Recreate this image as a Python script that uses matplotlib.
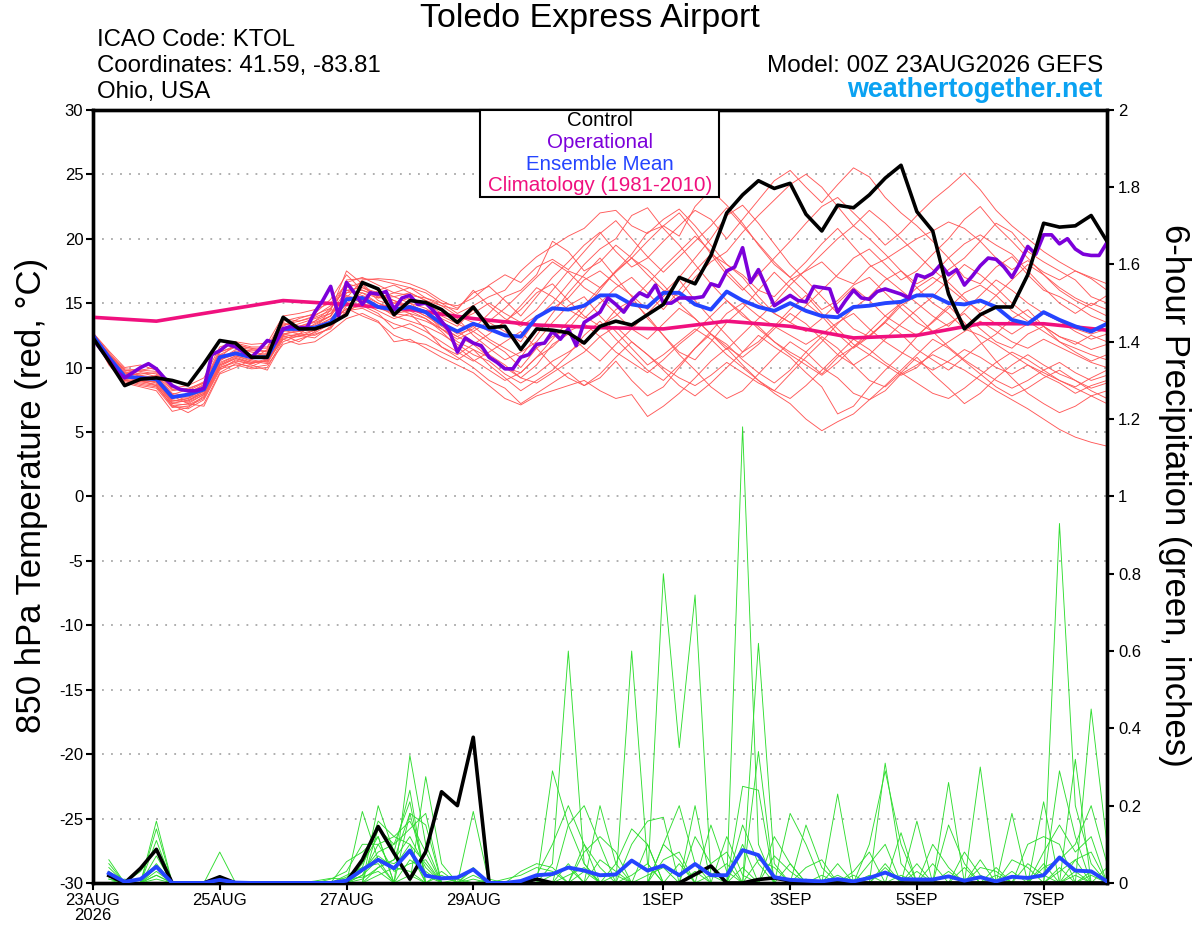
import matplotlib
matplotlib.use("Agg")
import matplotlib.pyplot as plt
import numpy as np
from matplotlib.patches import Rectangle

plt.rcParams["font.family"] = ["Liberation Sans", "DejaVu Sans"]

# ── Data (6-hourly steps from 00Z 23AUG2026, 0..384 h) ────────────────────────
hours_6h = np.arange(0, 385, 6)
hours_3h = np.arange(0, 385, 3)
days_clim = np.arange(0, 17)

tick_days = [0, 2, 4, 6, 9, 11, 13, 15]
tick_labels = ["23AUG\n2026", "25AUG", "27AUG", "29AUG", "1SEP", "3SEP", "5SEP", "7SEP"]
temp_ticks = [-30, -25, -20, -15, -10, -5, 0, 5, 10, 15, 20, 25, 30]
precip_ticks = [0, 0.2, 0.4, 0.6, 0.8, 1.0, 1.2, 1.4, 1.6, 1.8, 2.0]
precip_labels = ["0", "0.2", "0.4", "0.6", "0.8", "1", "1.2", "1.4", "1.6", "1.8", "2"]

control_temp = [
    12.3, 10.5, 8.6, 9.1, 9.2, 9.0, 8.65, 10.3,
    12.1, 11.9, 10.8, 10.8, 13.9, 13.0, 13.0, 13.4,
    14.1, 16.6, 16.1, 14.1, 15.2, 15.05, 14.5, 13.5,
    14.7, 13.1, 13.2, 11.4, 13.0, 12.9, 12.7, 11.9,
    13.2, 13.6, 13.3, 14.1, 14.9, 17.0, 16.5, 18.7,
    22.0, 23.4, 24.5, 23.9, 24.3, 21.9, 20.6, 22.6,
    22.4, 23.4, 24.7, 25.7, 22.1, 20.6, 15.7, 13.0,
    14.1, 14.7, 14.7, 17.2, 21.2, 20.9, 21.0, 21.8,
    19.8,
]

mean_temp = [
    12.5, 10.8, 9.3, 9.2, 9.1, 7.7, 7.9, 8.3,
    10.8, 11.1, 10.8, 10.8, 13.0, 13.0, 13.1, 13.5,
    15.3, 15.4, 14.7, 14.5, 14.7, 14.3, 13.4, 12.8,
    13.4, 13.0, 12.5, 12.4, 13.9, 14.6, 14.5, 14.8,
    15.6, 15.6, 14.9, 14.7, 15.8, 15.8, 14.9, 14.5,
    15.9, 15.2, 14.7, 14.4, 15.0, 14.4, 14.0, 13.9,
    14.7, 14.8, 15.0, 15.1, 15.6, 15.6, 15.0, 14.9,
    15.2, 14.7, 13.7, 13.4, 14.3, 13.7, 13.2, 12.8,
    13.4,
]

# operational run is 3-hourly
oper_temp = [
    12.2, 11.4, 10.6, 9.7, 9.2, 9.6, 10.0, 10.3,
    9.9, 9.2, 8.6, 8.3, 8.2, 8.2, 8.4, 11.0,
    11.3, 11.8, 11.6, 11.2, 10.8, 11.4, 12.1, 11.9,
    13.0, 13.2, 13.1, 13.1, 14.3, 15.2, 16.3, 14.0,
    16.6, 15.8, 14.9, 15.8, 15.7, 15.9, 14.5, 15.4,
    15.6, 14.9, 15.0, 14.4, 13.6, 12.8, 11.2, 12.3,
    11.9, 11.7, 10.8, 10.4, 9.9, 9.9, 10.8, 11.0,
    11.8, 11.9, 12.8, 12.2, 13.0, 11.7, 13.5, 13.9,
    14.3, 15.4, 14.9, 14.3, 15.2, 15.8, 15.5, 16.4,
    15.0, 15.0, 15.4, 15.4, 15.4, 15.5, 16.5, 16.3,
    17.5, 17.8, 19.3, 16.6, 17.6, 16.2, 14.8, 15.2,
    15.6, 15.2, 15.1, 16.3, 16.2, 16.1, 14.3, 15.2,
    16.0, 15.4, 15.3, 15.9, 16.1, 15.9, 15.7, 15.4,
    17.2, 17.0, 17.3, 18.0, 17.2, 17.6, 16.4, 17.1,
    17.9, 18.5, 18.4, 17.8, 17.0, 18.1, 19.4, 18.8,
    20.3, 20.3, 19.6, 20.0, 19.2, 18.8, 18.7, 18.7,
    19.7,
]

# daily climatology (1981-2010)
clim_temp = [13.9, 13.6, 14.4, 15.2, 14.9, 14.5, 13.8, 13.3, 13.1,
             13.0, 13.6, 13.2, 12.3, 12.5, 13.4, 13.4, 12.9]

member_temps = [
    [12.6, 11.0, 9.6, 9.4, 9.0, 7.4, 7.6, 8.1,
     10.5, 11.3, 11.0, 10.6, 12.8, 13.2, 13.5, 14.0,
     16.8, 16.9, 16.8, 16.5, 16.2, 15.8, 15.0, 14.2,
     14.8, 15.5, 16.0, 17.5, 18.6, 19.4, 20.2, 20.8,
     22.0, 22.2, 21.0, 20.4, 21.5, 22.3, 21.0, 19.5,
     18.0, 17.2, 16.0, 15.5, 16.8, 17.5, 18.2, 17.0,
     16.5, 17.8, 18.4, 19.2, 20.0, 20.6, 21.3, 20.8,
     19.8, 18.5, 17.6, 18.3, 17.4, 16.8, 17.5, 16.9,
     16.0],
    [12.4, 10.5, 9.0, 8.8, 8.6, 7.0, 6.8, 7.5,
     9.8, 10.6, 10.2, 9.8, 12.0, 12.5, 12.3, 13.2,
     15.8, 16.4, 15.2, 14.8, 15.0, 14.2, 13.0, 12.2,
     12.8, 12.0, 11.2, 10.0, 11.5, 12.4, 13.0, 14.5,
     16.0, 17.5, 18.8, 20.5, 21.0, 20.2, 22.5, 23.8,
     22.6, 21.2, 19.5, 18.0, 17.0, 15.8, 14.5, 15.2,
     16.4, 17.0, 15.8, 14.6, 13.5, 12.8, 13.4, 14.2,
     13.0, 12.0, 11.5, 12.6, 13.2, 12.4, 11.8, 12.5,
     12.0],
    [12.5, 10.2, 8.8, 8.5, 8.2, 6.6, 6.9, 7.8,
     10.2, 10.8, 10.4, 10.5, 12.5, 12.0, 12.8, 13.6,
     15.5, 15.0, 14.4, 13.8, 14.2, 13.0, 11.6, 10.8,
     10.0, 9.0, 8.4, 7.2, 8.0, 8.8, 9.6, 8.6,
     9.2, 10.5, 9.0, 7.8, 8.5, 10.0, 11.5, 12.8,
     14.2, 15.0, 14.0, 13.2, 12.5, 11.8, 12.6, 13.5,
     14.2, 13.0, 12.0, 11.2, 10.5, 9.8, 10.5, 11.4,
     10.8, 10.0, 9.5, 10.2, 9.4, 8.8, 8.0, 8.6,
     9.0],
    [12.7, 11.2, 9.8, 9.5, 9.6, 8.2, 8.4, 8.8,
     11.2, 11.6, 11.2, 11.0, 13.2, 13.8, 14.2, 15.3,
     17.2, 16.0, 15.6, 15.2, 14.6, 14.0, 13.4, 12.6,
     13.0, 14.2, 15.5, 16.0, 17.2, 19.8, 19.0, 17.5,
     18.2, 19.5, 18.5, 17.2, 16.0, 15.5, 17.0, 18.2,
     19.0, 20.5, 21.8, 23.0, 24.2, 25.0, 24.0, 22.5,
     21.0, 20.0, 18.8, 17.5, 16.5, 17.2, 18.5, 19.6,
     20.3, 19.5, 18.8, 17.5, 16.2, 15.0, 14.2, 15.0,
     14.5],
    [12.3, 10.6, 9.2, 9.0, 9.4, 7.8, 7.2, 7.0,
     9.5, 10.0, 10.6, 11.4, 13.0, 12.8, 13.0, 14.5,
     14.2, 15.2, 16.0, 16.4, 15.8, 15.2, 14.5, 13.8,
     12.5, 11.5, 10.6, 11.2, 12.0, 13.5, 14.8, 15.5,
     14.0, 12.8, 11.5, 10.2, 11.0, 12.0, 13.0, 12.2,
     11.0, 10.0, 9.0, 8.2, 9.5, 10.8, 12.0, 13.4,
     14.6, 15.5, 16.8, 17.5, 16.2, 15.0, 14.2, 13.0,
     12.5, 11.8, 11.0, 10.2, 9.6, 9.0, 8.5, 9.2,
     9.8],
    [12.6, 10.9, 9.5, 9.8, 10.0, 8.6, 8.1, 8.6,
     10.8, 11.8, 11.5, 11.2, 13.5, 13.0, 13.6, 14.6,
     16.2, 16.6, 16.0, 15.5, 15.0, 14.6, 13.8, 13.2,
     14.5, 13.5, 12.8, 12.0, 13.8, 15.0, 16.5, 18.0,
     19.2, 20.0, 21.8, 22.4, 20.8, 19.5, 18.0, 16.5,
     15.2, 14.0, 13.2, 12.0, 11.2, 10.5, 9.5, 10.8,
     11.6, 12.5, 13.5, 14.8, 15.6, 16.5, 17.6, 18.5,
     19.8, 21.2, 20.5, 19.0, 18.2, 17.5, 16.8, 15.5,
     15.0],
    [12.4, 10.8, 9.4, 9.1, 8.8, 7.2, 7.5, 8.0,
     10.0, 10.4, 10.0, 10.2, 11.8, 12.2, 12.6, 13.0,
     14.8, 15.5, 14.8, 14.0, 13.6, 13.2, 12.6, 11.8,
     11.0, 10.5, 9.5, 8.8, 9.5, 10.5, 11.2, 12.0,
     13.0, 14.5, 15.2, 14.0, 12.5, 11.0, 9.8, 8.5,
     7.6, 8.2, 9.5, 10.8, 12.0, 11.2, 10.0, 9.2,
     8.0, 7.5, 8.2, 9.5, 10.2, 11.0, 10.4, 9.8,
     9.0, 8.2, 7.5, 6.8, 6.0, 5.2, 4.6, 4.2,
     3.9],
    [12.5, 11.1, 9.7, 9.3, 9.1, 7.6, 7.9, 8.5,
     11.0, 11.0, 10.9, 11.1, 13.0, 13.4, 13.8, 14.2,
     15.4, 16.8, 16.9, 16.8, 16.5, 16.0, 15.2, 14.6,
     15.8, 16.3, 15.2, 14.0, 15.5, 17.0, 18.2, 19.5,
     20.5, 19.0, 17.8, 18.5, 19.8, 21.0, 22.2, 21.5,
     20.0, 21.5, 23.0, 24.5, 25.3, 24.0, 22.8, 24.2,
     25.5, 24.8, 23.2, 22.0, 21.0, 19.8, 18.5, 17.0,
     16.5, 17.8, 18.6, 17.2, 16.0, 15.5, 14.8, 14.0,
     13.5],
    [12.5, 10.4, 8.9, 8.6, 8.4, 6.9, 7.0, 7.6,
     9.9, 10.2, 9.9, 10.0, 12.2, 11.8, 12.0, 12.8,
     13.8, 14.2, 13.6, 12.0, 12.2, 11.5, 10.8, 10.2,
     9.6, 8.6, 7.6, 7.1, 7.8, 8.2, 8.6, 9.0,
     8.2, 7.6, 7.9, 6.2, 7.0, 8.0, 9.2, 10.5,
     11.5, 10.2, 9.0, 8.0, 7.2, 6.0, 5.1, 5.8,
     6.4, 7.5, 8.6, 9.8, 11.0, 12.2, 11.5, 10.5,
     9.5, 8.5, 7.8, 8.4, 9.2, 9.8, 9.0, 8.2,
     7.6],
    [12.6, 10.7, 9.3, 9.6, 9.3, 7.9, 8.3, 8.9,
     11.4, 11.9, 11.6, 11.6, 13.8, 13.6, 14.0, 14.8,
     16.0, 15.8, 15.4, 15.8, 16.2, 15.4, 14.8, 14.0,
     13.5, 12.8, 13.5, 14.8, 16.2, 15.5, 14.5, 13.8,
     15.0, 16.2, 17.0, 15.8, 14.5, 16.0, 17.5, 18.8,
     18.0, 17.0, 15.5, 14.2, 13.5, 14.8, 16.0, 17.2,
     18.5, 19.2, 18.0, 16.8, 17.5, 18.8, 20.0, 21.5,
     22.5, 21.0, 19.8, 18.5, 17.2, 16.0, 15.2, 14.6,
     14.0],
    [12.4, 10.3, 9.1, 8.9, 8.9, 7.3, 7.4, 8.2,
     10.4, 10.9, 10.5, 10.3, 12.4, 12.6, 12.9, 13.5,
     15.0, 15.8, 15.0, 14.4, 14.8, 14.4, 13.6, 12.8,
     12.0, 11.0, 10.2, 9.2, 10.2, 11.8, 12.6, 11.5,
     10.5, 11.8, 13.0, 14.2, 15.5, 16.8, 15.2, 13.8,
     12.5, 11.2, 12.0, 13.2, 14.5, 15.6, 14.2, 13.0,
     11.8, 11.0, 10.2, 9.4, 10.0, 11.2, 12.0, 12.8,
     13.6, 12.8, 12.0, 11.5, 12.2, 11.6, 11.0, 10.4,
     10.0],
    [12.7, 11.3, 10.0, 10.2, 9.8, 8.4, 8.6, 9.2,
     11.6, 12.0, 11.8, 11.9, 14.0, 14.2, 14.5, 15.0,
     16.5, 16.2, 15.6, 15.0, 15.4, 15.0, 14.2, 13.6,
     14.2, 15.0, 14.2, 13.5, 14.5, 16.0, 17.5, 17.0,
     16.2, 17.5, 18.5, 19.8, 21.0, 22.0, 20.5, 18.8,
     17.2, 16.0, 17.2, 18.5, 19.8, 21.2, 22.5, 23.2,
     22.0, 20.8, 19.5, 20.5, 21.8, 23.0, 24.0, 25.1,
     23.8, 22.2, 21.0, 20.0, 19.0, 18.2, 17.5, 17.0,
     16.5],
    [12.3, 10.9, 9.5, 9.2, 9.0, 7.5, 7.3, 7.9,
     10.2, 10.7, 10.3, 10.7, 12.6, 12.9, 13.2, 13.8,
     14.5, 14.8, 14.2, 13.0, 13.4, 12.8, 12.0, 11.2,
     10.5, 11.2, 12.0, 12.8, 11.5, 10.2, 9.2, 8.6,
     9.5, 10.8, 12.0, 11.0, 9.8, 8.6, 7.8, 8.8,
     10.0, 11.2, 12.5, 11.6, 10.8, 9.6, 8.5, 6.4,
     7.0, 8.5, 9.8, 11.0, 12.4, 13.6, 14.8, 13.5,
     12.0, 10.5, 9.2, 8.0, 7.2, 6.5, 7.0, 7.8,
     8.2],
    [12.5, 11.0, 9.8, 9.7, 9.5, 8.0, 7.8, 8.4,
     10.6, 11.4, 11.3, 11.3, 13.3, 13.6, 13.9, 14.4,
     17.5, 16.5, 15.4, 15.5, 15.8, 15.2, 14.8, 14.5,
     16.0, 14.8, 13.8, 13.2, 14.0, 14.6, 15.4, 16.8,
     17.5, 16.5, 15.6, 14.5, 15.8, 17.0, 18.5, 20.0,
     21.8, 22.6, 21.2, 19.6, 18.0, 16.8, 15.5, 14.2,
     13.0, 12.4, 13.6, 15.0, 16.2, 17.0, 16.2, 15.2,
     14.4, 15.6, 16.8, 18.0, 17.2, 16.2, 15.4, 14.8,
     15.6],
    [12.6, 10.6, 9.1, 9.3, 9.2, 7.7, 7.7, 8.2,
     10.7, 11.2, 10.8, 10.9, 12.9, 12.6, 13.4, 14.0,
     15.6, 15.2, 14.6, 14.2, 14.0, 13.6, 13.0, 12.4,
     13.2, 12.2, 11.5, 10.8, 12.5, 14.2, 15.8, 17.2,
     18.5, 17.0, 15.5, 13.8, 12.5, 11.2, 10.6, 12.0,
     13.5, 14.6, 16.0, 17.4, 16.2, 15.0, 14.0, 12.6,
     11.5, 12.4, 13.5, 12.6, 11.4, 10.6, 9.8, 10.8,
     11.8, 12.6, 13.8, 14.5, 13.2, 12.0, 11.2, 10.5,
     11.0],
    [12.4, 10.5, 9.0, 8.7, 8.5, 7.1, 6.5, 7.2,
     9.6, 10.3, 10.1, 10.6, 12.3, 12.4, 12.7, 13.4,
     14.6, 14.0, 13.5, 12.5, 12.0, 11.8, 11.2, 10.6,
     11.4, 10.2, 9.2, 8.2, 9.0, 9.8, 11.0, 12.5,
     13.6, 12.2, 11.0, 9.8, 9.0, 10.2, 11.5, 12.6,
     11.8, 10.6, 9.6, 8.8, 9.8, 11.2, 12.4, 11.5,
     10.2, 9.0, 8.5, 9.6, 10.8, 9.5, 8.4, 7.2,
     8.0, 9.2, 10.2, 11.0, 10.2, 9.5, 9.0, 8.4,
     8.8],
    [12.5, 10.6, 9.2, 9.0, 8.9, 7.4, 7.6, 8.4,
     10.6, 11.0, 10.7, 10.8, 12.8, 13.1, 13.3, 14.0,
     15.8, 16.0, 15.5, 15.0, 14.6, 14.0, 13.2, 12.4,
     11.8, 12.6, 13.6, 14.5, 15.8, 16.5, 15.2, 14.0,
     13.2, 14.0, 15.2, 16.5, 17.8, 19.0, 20.2, 19.0,
     17.5, 16.2, 15.0, 14.2, 13.5, 12.8, 13.8, 15.0,
     16.2, 15.2, 14.0, 13.2, 12.5, 13.5, 14.6, 15.8,
     16.4, 15.6, 14.4, 13.6, 12.8, 12.0, 11.5, 11.0,
     10.6],
    [12.6, 10.9, 9.4, 9.1, 9.3, 7.9, 7.4, 8.0,
     10.3, 10.9, 10.6, 10.4, 12.6, 12.8, 13.0, 13.8,
     15.2, 15.6, 15.0, 14.6, 14.2, 13.8, 13.0, 12.0,
     11.4, 10.8, 10.0, 9.6, 10.8, 12.2, 13.6, 14.8,
     16.2, 17.4, 18.5, 17.6, 16.4, 15.0, 13.8, 12.6,
     11.6, 10.8, 11.8, 13.0, 14.2, 13.4, 12.2, 11.0,
     10.2, 11.0, 12.2, 13.4, 14.5, 15.5, 16.8, 18.0,
     17.2, 16.2, 15.0, 14.0, 13.2, 12.4, 12.0, 11.4,
     11.8],
    [12.4, 10.7, 9.6, 9.4, 9.2, 7.6, 8.0, 8.7,
     11.0, 11.6, 11.4, 11.2, 13.4, 13.2, 13.6, 14.2,
     16.0, 16.2, 15.8, 15.2, 14.8, 14.4, 14.0, 13.4,
     12.8, 13.6, 14.6, 15.8, 17.0, 18.2, 17.4, 16.2,
     15.4, 14.2, 13.0, 12.2, 13.4, 14.6, 13.8, 12.6,
     11.4, 12.6, 13.8, 15.0, 16.4, 17.6, 18.8, 20.0,
     21.0, 22.2, 21.2, 20.0, 18.8, 17.6, 16.6, 15.4,
     14.2, 13.4, 12.6, 13.4, 14.2, 13.6, 12.8, 12.2,
     12.6],
    [12.5, 10.4, 9.0, 8.9, 8.7, 7.2, 7.1, 7.7,
     10.0, 10.5, 10.3, 10.6, 12.6, 12.4, 12.9, 13.6,
     14.9, 15.4, 14.8, 14.2, 14.4, 13.8, 12.8, 11.6,
     10.6, 9.8, 9.0, 9.6, 10.8, 11.6, 12.8, 13.4,
     12.4, 11.2, 10.4, 9.6, 10.6, 11.8, 12.8, 14.0,
     15.2, 14.2, 13.0, 12.0, 11.0, 10.2, 9.4, 10.4,
     11.6, 12.8, 14.0, 15.0, 14.0, 12.8, 11.6, 10.6,
     9.8, 9.0, 8.4, 9.0, 9.8, 10.4, 9.6, 9.0,
     9.4],
    [12.6, 11.0, 9.9, 9.8, 9.7, 8.3, 8.2, 8.8,
     11.2, 11.7, 11.5, 11.5, 13.6, 13.9, 14.1, 14.6,
     16.6, 17.0, 16.4, 15.8, 15.6, 15.4, 15.0, 14.8,
     15.4, 16.4, 17.2, 16.6, 17.8, 18.4, 17.6, 19.0,
     20.4, 21.4, 20.0, 18.6, 17.4, 18.6, 19.8, 21.0,
     22.4, 21.0, 19.6, 18.2, 17.0, 18.2, 19.6, 20.8,
     19.4, 18.0, 17.0, 16.0, 15.0, 14.0, 13.2, 14.4,
     15.6, 16.8, 16.0, 15.0, 14.2, 13.6, 13.0, 12.6,
     13.0],
    [12.4, 10.6, 9.3, 9.0, 8.6, 7.0, 7.2, 7.9,
     10.1, 10.7, 10.4, 10.5, 12.2, 12.6, 12.5, 13.1,
     14.4, 14.6, 14.0, 13.4, 13.0, 12.4, 11.6, 11.0,
     11.8, 10.8, 10.0, 9.2, 8.8, 9.6, 10.4, 11.2,
     12.4, 13.2, 12.0, 11.0, 10.0, 9.2, 8.6, 9.4,
     10.4, 9.6, 8.8, 8.2, 7.6, 8.6, 9.8, 11.0,
     12.2, 11.4, 10.4, 9.6, 8.8, 8.0, 7.6, 8.4,
     9.4, 10.4, 11.2, 10.6, 9.8, 9.0, 8.4, 7.8,
     7.2],
]

# 6-hour precipitation (inches), steps 6..384 h
control_precip = [
    0.019, 0.0, 0.038, 0.087, 0.0, 0.0, 0.0, 0.016,
    0.0, 0.0, 0.0, 0.0, 0.0, 0.0, 0.0, 0.003,
    0.06, 0.146, 0.077, 0.01, 0.081, 0.236, 0.2, 0.377,
    0.0, 0.0, 0.0, 0.01, 0.0, 0.0, 0.0, 0.0,
    0.0, 0.0, 0.0, 0.0, 0.0, 0.022, 0.044, 0.0,
    0.0, 0.009, 0.013, 0.005, 0.0, 0.0, 0.0, 0.0,
    0.0, 0.0, 0.0, 0.0, 0.0, 0.0, 0.0, 0.0,
    0.0, 0.0, 0.0, 0.0, 0.0, 0.0, 0.0, 0.0,
]

mean_precip = [
    0.025, 0.003, 0.01, 0.042, 0.0, 0.0, 0.0, 0.008,
    0.001, 0.0, 0.0, 0.0, 0.0, 0.0, 0.0, 0.006,
    0.034, 0.06, 0.038, 0.084, 0.019, 0.012, 0.014, 0.035,
    0.0, 0.0, 0.005, 0.02, 0.023, 0.04, 0.032, 0.02,
    0.022, 0.058, 0.032, 0.045, 0.02, 0.049, 0.02, 0.02,
    0.085, 0.072, 0.015, 0.008, 0.006, 0.004, 0.01, 0.004,
    0.013, 0.027, 0.01, 0.009, 0.009, 0.017, 0.006, 0.015,
    0.004, 0.016, 0.013, 0.02, 0.066, 0.032, 0.03, 0.004,
]

# ensemble members: (6-hour step index, inches); all other steps are dry
member_precip_spikes = [
    [(1, .06), (4, .16), (17, .05), (18, .12), (20, .33), (21, .1), (29, .05),
     (30, .6), (31, .05), (35, .1), (41, .1), (47, .23), (50, .05)],
    [(1, .04), (4, .14), (8, .08), (18, .2), (19, .08), (20, .24), (36, .8),
     (37, .35), (38, .745), (39, .02), (54, .26), (61, .93), (62, .2), (63, .05)],
    [(1, .03), (4, .11), (17, .185), (18, .06), (21, .275), (22, .05), (34, .6),
     (35, .05), (41, 1.18), (42, .1), (56, .3), (63, .45), (64, .1)],
    [(1, .02), (3, .03), (4, .09), (18, .14), (19, .1), (20, .21), (24, .185),
     (29, .29), (30, .15), (31, .05), (42, .62), (43, .05), (50, .31), (51, .05),
     (62, .32)],
    [(1, .05), (4, .07), (16, .055), (17, .08), (18, .12), (20, .18), (21, .15),
     (32, .2), (33, .05), (38, .2), (42, .34), (45, .15), (46, .04), (49, .1),
     (50, .29), (51, .1), (61, .29), (62, .12)],
    [(1, .03), (4, .05), (16, .02), (17, .04), (18, .16), (19, .12), (20, .1),
     (22, .03), (30, .15), (31, .2), (32, .1), (34, .1), (35, .16), (36, .17),
     (41, .25), (42, .24), (52, .16), (58, .18), (60, .21)],
    [(1, .02), (4, .03), (15, .01), (16, .03), (17, .1), (18, .1), (19, .12),
     (20, .16), (21, .08), (24, .04), (28, .02), (29, .1), (30, .2), (31, .1),
     (36, .1), (37, .2), (38, .05), (44, .18), (45, .1), (51, .13), (56, .06),
     (60, .08), (61, .15), (62, .08), (63, .12)],
    [(2, .01), (4, .04), (17, .03), (18, .08), (19, .1), (20, .14), (21, .18),
     (24, .035), (31, .08), (32, .12), (33, .08), (38, .12), (39, .05), (40, .08),
     (43, .12), (44, .05), (47, .05), (54, .15), (55, .05), (59, .1), (60, .12),
     (61, .1)],
    [(4, .02), (18, .04), (19, .06), (20, .12), (21, .04), (24, .02), (30, .05),
     (33, .05), (34, .14), (35, .1), (41, .15), (42, .05), (48, .03), (49, .08),
     (53, .05), (57, .04), (62, .06), (63, .08)],
    [(1, .01), (4, .02), (17, .02), (18, .06), (19, .05), (20, .08), (22, .02),
     (26, .01), (27, .02), (28, .04), (29, .03), (36, .06), (37, .08), (40, .12),
     (41, .02), (45, .04), (46, .06), (50, .04), (55, .04), (58, .06), (59, .04),
     (61, .04), (63, .03)],
    [(16, .015), (17, .04), (18, .05), (20, .06), (21, .03), (29, .02), (30, .04),
     (32, .06), (33, .03), (37, .05), (39, .15), (40, .03), (44, .05), (47, .02),
     (52, .05), (54, .03), (57, .02), (60, .05), (62, .03), (64, .04)],
    [(17, .02), (18, .1), (19, .03), (20, .05), (21, .06), (23, .01), (31, .03),
     (34, .02), (35, .05), (43, .07), (44, .03), (49, .02), (55, .08), (56, .02),
     (61, .03), (62, .06)],
    [(1, .01), (4, .01), (18, .02), (19, .04), (20, .03), (24, .01), (28, .01),
     (33, .02), (38, .03), (41, .04), (46, .02), (51, .02), (58, .03), (62, .02)],
    [(16, .005), (17, .03), (18, .07), (19, .04), (20, .1), (21, .05), (27, .03),
     (28, .05), (29, .04), (36, .1), (37, .06), (42, .06), (43, .04), (53, .1),
     (54, .04), (59, .05), (60, .02)],
    [(14, .005), (15, .012), (16, .01), (17, .015), (18, .03), (20, .02), (25, .01),
     (30, .02), (31, .04), (39, .02), (40, .05), (48, .02), (56, .04), (57, .03),
     (63, .02)],
    [(17, .01), (18, .04), (19, .06), (20, .18), (21, .02), (31, .1), (32, .04),
     (35, .02), (36, .04), (45, .01), (49, .05), (50, .1), (52, .03), (60, .04),
     (61, .06), (62, .1), (63, .2), (64, .05)],
]

# ── Colours ───────────────────────────────────────────────────────────────────
C_MEMBER_T = "#FF5858"
C_MEMBER_P = "#30DD30"
C_CONTROL = "#000000"
C_OPER = "#7C00DA"
C_MEAN = "#2444FF"
C_CLIM = "#F0107E"
C_SITE = "#0AA2F2"

for m in member_temps:
    assert len(m) == len(hours_6h), len(m)
assert len(oper_temp) == len(hours_3h)

d6 = hours_6h / 24.0
d3 = hours_3h / 24.0
dp = hours_6h[1:] / 24.0

# ── Figure ────────────────────────────────────────────────────────────────────
fig = plt.figure(figsize=(12, 9.27), dpi=100)
ax = fig.add_axes([0.0775, 0.0475, 0.845, 0.834])
ax2 = ax.twinx()

for m in member_temps:
    ax.plot(d6, m, color=C_MEMBER_T, lw=0.65, zorder=2)
ax.plot(days_clim, clim_temp, color=C_CLIM, lw=2.6, zorder=4)
ax.plot(d6, mean_temp, color=C_MEAN, lw=2.8, zorder=5)
ax.plot(d3, oper_temp, color=C_OPER, lw=2.6, zorder=5)
ax.plot(d6, control_temp, color=C_CONTROL, lw=2.6, zorder=6)

for spikes in member_precip_spikes:
    vals = np.zeros(len(dp))
    for k, v in spikes:
        vals[k - 1] = v
    ax2.plot(dp, vals, color=C_MEMBER_P, lw=0.65, zorder=2)
ax2.plot(dp, control_precip, color=C_CONTROL, lw=2.6, zorder=4)
ax2.plot(dp, mean_precip, color=C_MEAN, lw=2.8, zorder=5)

ax.set_xlim(0, 16)
ax.set_ylim(-30, 30)
ax2.set_ylim(0, 2)

ax.set_xticks(tick_days)
ax.set_xticklabels(tick_labels, fontsize=12, linespacing=1.05)
ax.set_yticks(temp_ticks)
ax.set_yticklabels([str(t) for t in temp_ticks], fontsize=12)
ax2.set_yticks(precip_ticks)
ax2.set_yticklabels(precip_labels, fontsize=12)

ax.tick_params(axis="both", direction="out", length=5, width=1.5, pad=2)
ax2.tick_params(axis="y", direction="out", length=5, width=1.5, pad=3)

ax.yaxis.grid(True, linestyle=(0, (1, 4)), color="#A8A8A8", lw=1.3)
ax.set_axisbelow(True)

for a in (ax, ax2):
    for s in a.spines.values():
        s.set_linewidth(2.4)

# ── Texts ─────────────────────────────────────────────────────────────────────
fig.text(0.4917, 0.980, "Toledo Express Airport", fontsize=24.5, ha="center", va="center")
fig.text(0.081, 0.957, "ICAO Code: KTOL", fontsize=17.3, ha="left", va="center")
fig.text(0.081, 0.929, "Coordinates: 41.59, -83.81", fontsize=17.3, ha="left", va="center")
fig.text(0.081, 0.901, "Ohio, USA", fontsize=17.3, ha="left", va="center")
fig.text(0.919, 0.929, "Model: 00Z 23AUG2026 GEFS", fontsize=17.6, ha="right", va="center")
fig.text(0.919, 0.903, "weathertogether.net", fontsize=19.4, fontweight="bold",
         color=C_SITE, ha="right", va="center")

fig.text(0.026, 0.466, "850 hPa Temperature (red, °C)", fontsize=25,
         rotation=90, ha="center", va="center")
fig.text(0.979, 0.466, "6-hour Precipitation (green, inches)", fontsize=25,
         rotation=-90, ha="center", va="center")

# legend box
fig.patches.append(Rectangle((480 / 1200, 1 - 197 / 927), 239 / 1200, 87 / 927,
                             transform=fig.transFigure, facecolor="white",
                             edgecolor="black", lw=1.5, zorder=5))
legend_items = [("Control", C_CONTROL), ("Operational", C_OPER),
                ("Ensemble Mean", C_MEAN), ("Climatology (1981-2010)", C_CLIM)]
for i, (txt, col) in enumerate(legend_items):
    fig.text(0.5, 1 - (121 + 21.5 * i) / 927, txt, fontsize=14.8, color=col,
             ha="center", va="center", zorder=6)

fig.savefig("out.png", dpi=100)
